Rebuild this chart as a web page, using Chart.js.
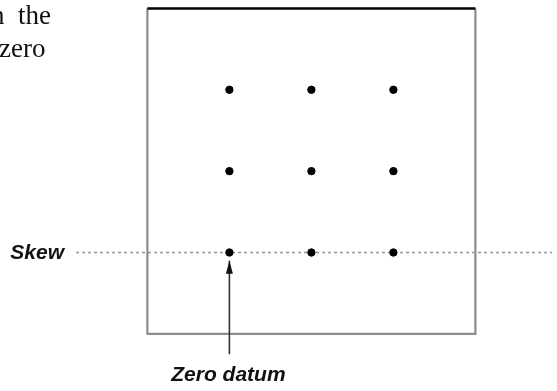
<!DOCTYPE html>
<html lang="en">
  <head>
    <meta charset="UTF-8" />
    <title>Skew / Zero datum</title>
    <script src="https://cdn.jsdelivr.net/npm/chart.js"></script>
    <style>
      html, body { margin: 0; padding: 0; background: #fff; }
      #wrap { width: 557px; height: 391px; }
    </style>
  </head>
  <body>
    <div id="wrap"><canvas id="myChart" width="557" height="391"></canvas></div>
    <script>
      // grid of target points (datum units)
      const colX = [1, 2, 3];
      const rowY = [0, 1, 2];
      // outline of the frame
      const boxX = [0, 0, 4, 4];
      const boxY = [3, -1, -1, 3];
      const topX = [0, 4];
      const topY = [3, 3];
      // dashed skew line and the arrow pointing at the zero datum
      const skewX = [-0.87, 5];
      const skewY = [0, 0];
      const arrowX = [1, 1];
      const arrowY = [-1.25, -0.1];
      const labels = { skew: "Skew", datum: "Zero datum" };
      const pageText = ["n  the", "zero"];

      const points = [];
      rowY.forEach((y) => colX.forEach((x) => points.push({ x: x, y: y })));

      const zip = (xs, ys) => xs.map((x, i) => ({ x: x, y: ys[i] }));

      const annotate = {
        id: "annotate",
        afterDatasetsDraw(chart) {
          const { ctx, scales } = chart;
          const px = (v) => scales.x.getPixelForValue(v);
          const py = (v) => scales.y.getPixelForValue(v);
          ctx.save();
          // arrow head
          const tx = px(arrowX[1]), ty = py(arrowY[1]);
          ctx.fillStyle = "#111";
          ctx.beginPath();
          ctx.moveTo(tx, ty);
          ctx.lineTo(tx - 3.5, ty + 13);
          ctx.lineTo(tx + 3.5, ty + 13);
          ctx.closePath();
          ctx.fill();

          ctx.font = "bold italic 21px 'Liberation Sans', Arial, sans-serif";
          ctx.fillStyle = "#111";
          ctx.textBaseline = "middle";
          ctx.textAlign = "right";
          ctx.fillText(labels.skew, px(skewX[0]) - 12, py(0) + 1);
          ctx.textAlign = "center";
          ctx.fillText(labels.datum, px(arrowX[0]) - 1, py(arrowY[0]) + 21);

          // clipped paragraph text from the page
          ctx.font = "27px 'Liberation Serif', 'Times New Roman', serif";
          ctx.textAlign = "left";
          ctx.textBaseline = "alphabetic";
          ctx.fillText(pageText[0], -9, 24);
          ctx.fillText(pageText[1], -1, 57);
          ctx.restore();
        },
      };

      const config = {
        type: "scatter",
        data: {
          datasets: [
            {
              data: points,
              backgroundColor: "#000",
              borderColor: "#000",
              pointRadius: 3.7,
              order: 0,
            },
            {
              type: "line",
              data: zip(topX, topY),
              borderColor: "#000",
              borderWidth: 2.5,
              pointRadius: 0,
              order: 1,
            },
            {
              type: "line",
              data: zip(arrowX, arrowY),
              borderColor: "#333",
              borderWidth: 1.6,
              pointRadius: 0,
              order: 2,
            },
            {
              type: "line",
              data: zip(boxX, boxY),
              borderColor: "#8c8c8c",
              borderWidth: 2.2,
              pointRadius: 0,
              order: 3,
            },
            {
              type: "line",
              data: zip(skewX, skewY),
              borderColor: "#999",
              borderWidth: 1.6,
              borderDash: [3, 3],
              pointRadius: 0,
              order: 4,
            },
          ],
        },
        options: {
          responsive: false,
          animation: false,
          layout: { padding: 0 },
          scales: {
            x: { type: "linear", display: false, min: -145 / 83.5, max: (557 - 145) / 83.5 },
            y: { type: "linear", display: false, min: -(391 - 254) / 83.5, max: 254 / 83.5 },
          },
          plugins: {
            legend: { display: false },
            tooltip: { enabled: false },
          },
        },
        plugins: [annotate],
      };
      const myChart = new Chart(document.getElementById("myChart"), config);
    </script>
  </body>
</html>
